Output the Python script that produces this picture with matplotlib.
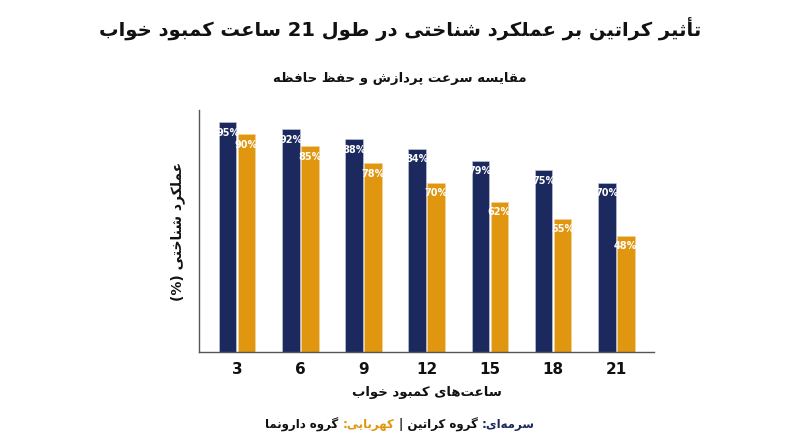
import matplotlib
matplotlib.use("Agg")
import matplotlib.pyplot as plt
import numpy as np
from matplotlib.offsetbox import TextArea, HPacker, AnchoredOffsetbox

# ---------------- data ----------------
hours = ["3", "6", "9", "12", "15", "18", "21"]
creatine = [95, 92, 88, 84, 79, 75, 70]
placebo = [90, 85, 78, 70, 62, 55, 48]

title_txt = "تأثیر کراتین بر عملکرد شناختی در طول 21 ساعت کمبود خواب"
subtitle_txt = "مقایسه سرعت پردازش و حفظ حافظه"
xlabel_txt = "ساعت\u200cهای کمبود خواب"
ylabel_txt = "عملکرد شناختی (%)"
legend_parts = ["سرمه\u200cای:", "گروه کراتین |", "کهربایی:", "گروه دارونما"]

NAVY = "#1b295e"
AMBER = "#e0960f"
TEXT = "#111111"

# ---------------- minimal Arabic/Persian shaping ----------------
FORMS = {
    '\u0627': (0xFE8D, 0xFE8E, None, None),
    '\u0623': (0xFE83, 0xFE84, None, None),
    '\u0622': (0xFE81, 0xFE82, None, None),
    '\u0628': (0xFE8F, 0xFE90, 0xFE91, 0xFE92),
    '\u062A': (0xFE95, 0xFE96, 0xFE97, 0xFE98),
    '\u062B': (0xFE99, 0xFE9A, 0xFE9B, 0xFE9C),
    '\u062C': (0xFE9D, 0xFE9E, 0xFE9F, 0xFEA0),
    '\u062D': (0xFEA1, 0xFEA2, 0xFEA3, 0xFEA4),
    '\u062E': (0xFEA5, 0xFEA6, 0xFEA7, 0xFEA8),
    '\u062F': (0xFEA9, 0xFEAA, None, None),
    '\u0630': (0xFEAB, 0xFEAC, None, None),
    '\u0631': (0xFEAD, 0xFEAE, None, None),
    '\u0632': (0xFEAF, 0xFEB0, None, None),
    '\u0698': (0xFB8A, 0xFB8B, None, None),
    '\u0633': (0xFEB1, 0xFEB2, 0xFEB3, 0xFEB4),
    '\u0634': (0xFEB5, 0xFEB6, 0xFEB7, 0xFEB8),
    '\u0635': (0xFEB9, 0xFEBA, 0xFEBB, 0xFEBC),
    '\u0636': (0xFEBD, 0xFEBE, 0xFEBF, 0xFEC0),
    '\u0637': (0xFEC1, 0xFEC2, 0xFEC3, 0xFEC4),
    '\u0638': (0xFEC5, 0xFEC6, 0xFEC7, 0xFEC8),
    '\u0639': (0xFEC9, 0xFECA, 0xFECB, 0xFECC),
    '\u063A': (0xFECD, 0xFECE, 0xFECF, 0xFED0),
    '\u0641': (0xFED1, 0xFED2, 0xFED3, 0xFED4),
    '\u0642': (0xFED5, 0xFED6, 0xFED7, 0xFED8),
    '\u0644': (0xFEDD, 0xFEDE, 0xFEDF, 0xFEE0),
    '\u0645': (0xFEE1, 0xFEE2, 0xFEE3, 0xFEE4),
    '\u0646': (0xFEE5, 0xFEE6, 0xFEE7, 0xFEE8),
    '\u0647': (0xFEE9, 0xFEEA, 0xFEEB, 0xFEEC),
    '\u0648': (0xFEED, 0xFEEE, None, None),
    '\u06CC': (0xFBFC, 0xFBFD, 0xFBFE, 0xFBFF),
    '\u064A': (0xFEF1, 0xFEF2, 0xFEF3, 0xFEF4),
    '\u06A9': (0xFB8E, 0xFB8F, 0xFB90, 0xFB91),
    '\u06AF': (0xFB92, 0xFB93, 0xFB94, 0xFB95),
    '\u067E': (0xFB56, 0xFB57, 0xFB58, 0xFB59),
    '\u0686': (0xFB7A, 0xFB7B, 0xFB7C, 0xFB7D),
}
MIRROR = {'(': ')', ')': '(', '[': ']', ']': '['}


def shape(s):
    chars = list(s)
    out = []
    n = len(chars)
    for i, c in enumerate(chars):
        if c not in FORMS:
            out.append(c)
            continue
        prev = chars[i - 1] if i > 0 else None
        nxt = chars[i + 1] if i + 1 < n else None
        join_prev = prev in FORMS and FORMS[prev][2] is not None
        join_next = nxt in FORMS and FORMS[c][2] is not None
        iso, fin, ini, med = FORMS[c]
        if join_prev and join_next:
            out.append(chr(med))
        elif join_prev:
            out.append(chr(fin))
        elif join_next:
            out.append(chr(ini))
        else:
            out.append(chr(iso))
    out = [c for c in out if c != '\u200c']
    runs = []
    cur = ""
    cur_ltr = None
    for c in out:
        ltr = c.isascii() and (c.isalnum())
        if cur_ltr is None or ltr == cur_ltr:
            cur += c
        else:
            runs.append((cur, cur_ltr))
            cur = c
        cur_ltr = ltr
    if cur:
        runs.append((cur, cur_ltr))
    res = []
    for r, ltr in reversed(runs):
        if ltr:
            res.append(r)
        else:
            res.append("".join(MIRROR.get(c, c) for c in reversed(r)))
    return "".join(res)


plt.rcParams['font.family'] = ['DejaVu Sans']

fig = plt.figure(figsize=(8.0, 4.47), dpi=100)
ax = fig.add_axes([0.249, 0.2125, 0.5688, 0.5415])

x = np.arange(len(hours))
w = 0.28
off = 0.15
b1 = ax.bar(x - off, creatine, w, color=NAVY, edgecolor="#c9cde0", linewidth=0.4)
b2 = ax.bar(x + off, placebo, w, color=AMBER, edgecolor="#f3d39a", linewidth=0.4)

for bars, vals in ((b1, creatine), (b2, placebo)):
    for r, v in zip(bars, vals):
        ax.annotate(f"{v}%", (r.get_x() + r.get_width() / 2, v),
                    xytext=(0, -4), textcoords="offset points",
                    ha="center", va="top", color="white",
                    fontsize=7, fontweight="bold")

ax.set_xlim(-0.6, 6.6)
ax.set_ylim(0, 100)
ax.set_xticks(x)
ax.set_xticklabels(hours, fontsize=11, fontweight="bold", color=TEXT)
ax.tick_params(axis="x", length=0, pad=7)
ax.set_yticks([])
for s in ("top", "right"):
    ax.spines[s].set_visible(False)
for s in ("left", "bottom"):
    ax.spines[s].set_color("#555555")
    ax.spines[s].set_linewidth(1.0)

ax.set_xlabel(shape(xlabel_txt), fontsize=9.5, fontweight="bold", color=TEXT, labelpad=7)
ax.set_ylabel(shape(ylabel_txt), fontsize=10, fontweight="bold", color=TEXT, labelpad=10)

fig.text(0.5, 0.935, shape(title_txt), ha="center", va="center",
         fontsize=14, fontweight="bold", color=TEXT)
fig.text(0.5, 0.825, shape(subtitle_txt), ha="center", va="center",
         fontsize=9.5, fontweight="bold", color=TEXT)

cols = [NAVY, TEXT, AMBER, TEXT]
areas = []
for txt, col in reversed(list(zip(legend_parts, cols))):
    areas.append(TextArea(shape(txt), textprops=dict(color=col, fontsize=8.5,
                                                     fontweight="bold")))
pack = HPacker(children=areas, align="baseline", pad=0, sep=3)
anch = AnchoredOffsetbox(loc="center", child=pack, pad=0, frameon=False,
                         bbox_to_anchor=(0.5, 0.05), bbox_transform=fig.transFigure,
                         borderpad=0)
fig.add_artist(anch)

fig.savefig("out.png", dpi=100, facecolor="white")
